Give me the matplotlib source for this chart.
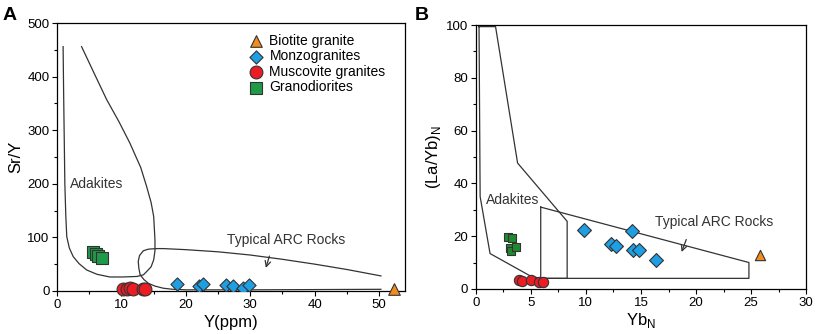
import matplotlib
matplotlib.use('Agg')
import matplotlib.pyplot as plt
from matplotlib.ticker import MultipleLocator

plt.rcParams['font.family'] = ['Liberation Sans', 'DejaVu Sans']

# ---- panel A data: Y (ppm) vs Sr/Y ----
a_bio_x = [52.3]
a_bio_y = [3]
a_monzo_x = [18.6, 22.1, 22.6, 26.2, 27.3, 28.8, 29.8]
a_monzo_y = [13, 10, 13, 11, 10, 6, 11]
a_musc_x = [10.3, 10.9, 11.3, 11.8, 13.3, 13.6]
a_musc_y = [4, 4, 5, 4, 3, 3]
a_grano_x = [5.6, 6.0, 6.4, 6.9]
a_grano_y = [72, 69, 66, 62]

# field boundaries, panel A
a_adak_x = [0.93, 1.0, 1.1, 1.2, 1.35, 1.5, 1.9, 2.5, 3.4, 4.6, 6.2, 8.2, 10.2, 12.4, 13.4,
            13.9, 14.6, 15.0, 15.2, 15.2, 15.0, 14.6, 13.9, 13.0, 11.3, 9.6, 7.7, 5.8, 3.8]
a_adak_y = [456, 380, 290, 200, 140, 101, 80, 64, 51, 39, 31, 26, 26, 27, 30,
            36, 45, 58, 75, 95, 139, 165, 195, 230, 276, 316, 357, 405, 456]
a_arc_x = [50.3, 45, 40, 35, 30, 25, 20, 16.5, 15.5, 14.2, 13.4, 12.8, 12.6, 12.7,
           12.9, 13.5, 14.2, 15.2, 16.5, 18.0, 20.1, 30, 50.3]
a_arc_y = [28, 40, 50, 59, 67, 73, 77, 79, 79, 78, 75, 66, 55, 42,
           30, 21, 14, 9, 5, 3, 2, 2, 3]

# ---- panel B data: YbN vs (La/Yb)N ----
b_bio_x = [25.85]
b_bio_y = [13]
b_monzo_x = [9.85, 14.2, 12.3, 12.7, 14.3, 14.8, 16.4]
b_monzo_y = [22.4, 21.8, 17.0, 16.4, 14.9, 14.6, 10.8]
b_musc_x = [3.9, 4.2, 5.0, 5.7, 6.1]
b_musc_y = [3.5, 2.9, 3.3, 2.7, 2.5]
b_grano_x = [2.9, 3.3, 3.1, 3.2, 3.7]
b_grano_y = [19.6, 19.4, 15.5, 14.5, 15.7]

b_adak_x = [0.3, 1.8, 3.8, 8.3, 8.3, 5.9, 5.0, 1.3, 0.4, 0.3]
b_adak_y = [99.4, 99.4, 47.7, 25.6, 4.0, 4.0, 4.8, 13.4, 35, 99.4]
b_arc_x = [5.9, 24.8, 24.8, 5.9, 5.9]
b_arc_y = [31.0, 10.0, 4.0, 4.0, 31.0]

c_bio = '#F28C1E'
c_monzo = '#1E9FE3'
c_musc = '#EC1C24'
c_grano = '#1F9A48'
c_grano_b = '#1E8A30'
c_line = '#333333'

fig = plt.figure(figsize=(8.16, 3.34), dpi=100)
axA = fig.add_axes([0.070, 0.129, 0.426, 0.802])
axB = fig.add_axes([0.583, 0.135, 0.405, 0.790])

# panel A
axA.plot(a_adak_x, a_adak_y, color=c_line, lw=0.9)
axA.plot(a_arc_x, a_arc_y, color=c_line, lw=0.9)
axA.scatter(a_bio_x, a_bio_y, marker='^', s=70, c=c_bio, edgecolors=c_line, linewidths=0.8,
            label='Biotite granite', zorder=5, clip_on=False)
axA.scatter(a_monzo_x, a_monzo_y, marker='D', s=45, c=c_monzo, edgecolors=c_line, linewidths=0.8,
            label='Monzogranites', zorder=5)
axA.scatter(a_musc_x, a_musc_y, marker='o', s=85, c=c_musc, edgecolors=c_line, linewidths=0.8,
            label='Muscovite granites', zorder=5, clip_on=False)
axA.scatter(a_grano_x, a_grano_y, marker='s', s=65, c=c_grano, edgecolors=c_line, linewidths=0.8,
            label='Granodiorites', zorder=5)
axA.text(2.0, 199, 'Adakites', fontsize=10, color=c_line, va='center')
axA.text(26.4, 95, 'Typical ARC Rocks', fontsize=10, color=c_line, va='center')
axA.annotate('', xy=(32.3, 38), xytext=(33.1, 70),
             arrowprops=dict(arrowstyle='->', color=c_line, lw=0.9))
axA.set_xlim(0, 54)
axA.set_ylim(0, 500)
axA.xaxis.set_major_locator(MultipleLocator(10))
axA.xaxis.set_minor_locator(MultipleLocator(5))
axA.yaxis.set_major_locator(MultipleLocator(100))
axA.yaxis.set_minor_locator(MultipleLocator(50))
axA.set_xlabel('Y(ppm)', fontsize=12, labelpad=3)
axA.set_ylabel('Sr/Y', fontsize=12, labelpad=3)
axA.legend(loc='upper left', bbox_to_anchor=(0.515, 0.99), frameon=False, fontsize=10,
           handletextpad=0.2, labelspacing=0.1, borderaxespad=0.2, handlelength=1.6)
fig.text(0.003, 0.955, 'A', fontsize=14, fontweight='bold', va='center')

# panel B
axB.plot(b_adak_x, b_adak_y, color=c_line, lw=0.9)
axB.plot(b_arc_x, b_arc_y, color=c_line, lw=0.9)
axB.scatter(b_bio_x, b_bio_y, marker='^', s=55, c=c_bio, edgecolors=c_line, linewidths=0.8, zorder=5)
axB.scatter(b_monzo_x, b_monzo_y, marker='D', s=50, c=c_monzo, edgecolors=c_line, linewidths=0.8, zorder=5)
axB.scatter(b_musc_x, b_musc_y, marker='o', s=55, c=c_musc, edgecolors=c_line, linewidths=0.8, zorder=5)
axB.scatter(b_grano_x, b_grano_y, marker='s', s=40, c=c_grano_b, edgecolors=c_line, linewidths=0.8, zorder=5)
axB.text(0.9, 33.8, 'Adakites', fontsize=10, color=c_line, va='center')
axB.text(16.3, 25.2, 'Typical ARC Rocks', fontsize=10, color=c_line, va='center')
axB.annotate('', xy=(18.6, 13), xytext=(19.2, 19.7),
             arrowprops=dict(arrowstyle='->', color=c_line, lw=0.9))
axB.set_xlim(0, 30)
axB.set_ylim(0, 100)
axB.xaxis.set_major_locator(MultipleLocator(5))
axB.xaxis.set_minor_locator(MultipleLocator(2.5))
axB.yaxis.set_major_locator(MultipleLocator(20))
axB.yaxis.set_minor_locator(MultipleLocator(10))
axB.set_xlabel('Yb$_\\mathregular{N}$', fontsize=12, labelpad=2)
axB.set_ylabel('(La/Yb)$_\\mathregular{N}$', fontsize=12, labelpad=2)
fig.text(0.508, 0.955, 'B', fontsize=14, fontweight='bold', va='center')

for ax in (axA, axB):
    ax.tick_params(which='both', direction='out', labelsize=9.5, width=0.8)
    ax.tick_params(which='major', length=3.5, pad=2)
    ax.tick_params(which='minor', length=2)
    for sp in ax.spines.values():
        sp.set_linewidth(0.9)

fig.savefig('out.png', dpi=100)
